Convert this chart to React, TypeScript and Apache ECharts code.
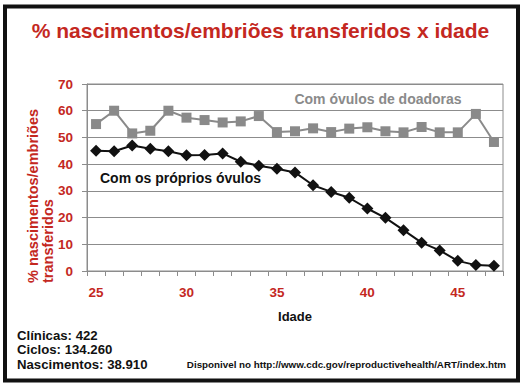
import React, { useEffect, useRef } from "react";
import * as echarts from "echarts";

const ages = ["25","26","27","28","29","30","31","32","33","34","35","36","37","38","39","40","41","42","43","44","45","46","47"];
const ownEggs = [45.0, 44.8, 47.0, 45.8, 44.8, 43.3, 43.4, 44.0, 40.9, 39.4, 38.3, 36.9, 32.1, 29.6, 27.4, 23.4, 19.9, 15.3, 10.6, 7.7, 3.8, 2.2, 2.0];
const donorEggs = [55.0, 60.0, 51.5, 52.5, 60.0, 57.4, 56.5, 55.6, 56.0, 58.0, 52.0, 52.3, 53.4, 52.0, 53.3, 53.8, 52.3, 51.9, 53.9, 51.9, 51.9, 58.8, 48.3];
const yTicks = { min: 0, max: 70, interval: 10 };
const titleText = "% nascimentos/embriões transferidos x idade";
const yName1 = "% nascimentos/embriões";
const yName2 = "transferidos";
const xName = "Idade";
const ownLabel = "Com os próprios óvulos";
const donorLabel = "Com óvulos de doadoras";
const footLeft = ["Clínicas: 422", "Ciclos: 134.260", "Nascimentos: 38.910"];
const footRight = "Disponivel no http://www.cdc.gov/reproductivehealth/ART/index.htm";

const RED = "#c4281f";
const GRAY = "#8a8a8a";
const AXIS = "#8c8c8c";
const FONT = "'Liberation Sans', Arial, sans-serif";

export default function App() {
  const ref = useRef<HTMLDivElement>(null);
  useEffect(() => {
    if (!ref.current) return;
    const chart = echarts.init(ref.current, null, { renderer: "svg" });
    chart.setOption({
      animation: false,
      backgroundColor: "#ffffff",
      textStyle: { fontFamily: FONT },
      title: {
        text: titleText,
        left: "center",
        top: 15,
        textStyle: { color: RED, fontSize: 21, fontWeight: "bold", fontFamily: FONT },
      },
      grid: {
        left: 87, top: 84, right: 18, bottom: 112,
        show: true, borderColor: AXIS, borderWidth: 1,
      },
      xAxis: {
        type: "category",
        data: ages,
        boundaryGap: true,
        name: xName,
        nameLocation: "middle",
        nameGap: 39,
        nameTextStyle: { color: "#111", fontSize: 13, fontWeight: "bold", fontFamily: FONT },
        axisLine: { lineStyle: { color: AXIS } },
        axisTick: { show: true, interval: 0, length: 5, lineStyle: { color: AXIS } },
        axisLabel: { interval: 4, color: RED, fontSize: 13.5, fontWeight: "bold", margin: 14, fontFamily: FONT },
        splitLine: { show: false },
      },
      yAxis: {
        type: "value",
        min: yTicks.min, max: yTicks.max, interval: yTicks.interval,
        axisLine: { show: true, lineStyle: { color: AXIS } },
        axisTick: { show: true, length: 5, lineStyle: { color: AXIS } },
        axisLabel: { color: RED, fontSize: 13.5, fontWeight: "bold", margin: 14, fontFamily: FONT },
        splitLine: { show: true, lineStyle: { color: AXIS, width: 1 } },
      },
      series: [
        {
          name: donorLabel,
          type: "line",
          data: donorEggs,
          symbol: "rect",
          symbolSize: 10,
          itemStyle: { color: GRAY },
          lineStyle: { color: GRAY, width: 2 },
          z: 2,
        },
        {
          name: ownLabel,
          type: "line",
          data: ownEggs,
          symbol: "diamond",
          symbolSize: 12,
          itemStyle: { color: "#111111" },
          lineStyle: { color: "#111111", width: 2 },
          z: 3,
        },
      ],
      graphic: [
        {
          type: "rect",
          shape: { x: 5, y: 6.5, width: 513, height: 374 },
          style: { fill: "none", stroke: "#111", lineWidth: 4 },
          silent: true,
        },
        {
          type: "text",
          x: 378, y: 99,
          style: { text: donorLabel, fill: GRAY, font: `bold 14px ${FONT}`, textAlign: "center", textVerticalAlign: "middle" },
        },
        {
          type: "text",
          x: 100, y: 178,
          style: { text: ownLabel, fill: "#111", font: `bold 14px ${FONT}`, textAlign: "left", textVerticalAlign: "middle" },
        },
        {
          type: "text",
          x: 33, y: 283, rotation: Math.PI / 2,
          style: { text: yName1, fill: RED, font: `bold 14.5px ${FONT}`, textAlign: "left", textVerticalAlign: "middle" },
        },
        {
          type: "text",
          x: 48, y: 283, rotation: Math.PI / 2,
          style: { text: yName2, fill: RED, font: `bold 14.5px ${FONT}`, textAlign: "left", textVerticalAlign: "middle" },
        },
        ...footLeft.map((t, i) => ({
          type: "text",
          x: 17, y: 335 + i * 14.5,
          style: { text: t, fill: "#111", font: `bold 13.2px ${FONT}`, textAlign: "left", textVerticalAlign: "middle" },
        })),
        {
          type: "text",
          x: 506, y: 364,
          style: { text: footRight, fill: "#111", font: `bold 9.8px ${FONT}`, textAlign: "right", textVerticalAlign: "middle" },
        },
      ],
    });
    return () => chart.dispose();
  }, []);
  return <div ref={ref} style={{ width: 521, height: 383, position: "fixed", left: 0, top: 0 }} />;
}
